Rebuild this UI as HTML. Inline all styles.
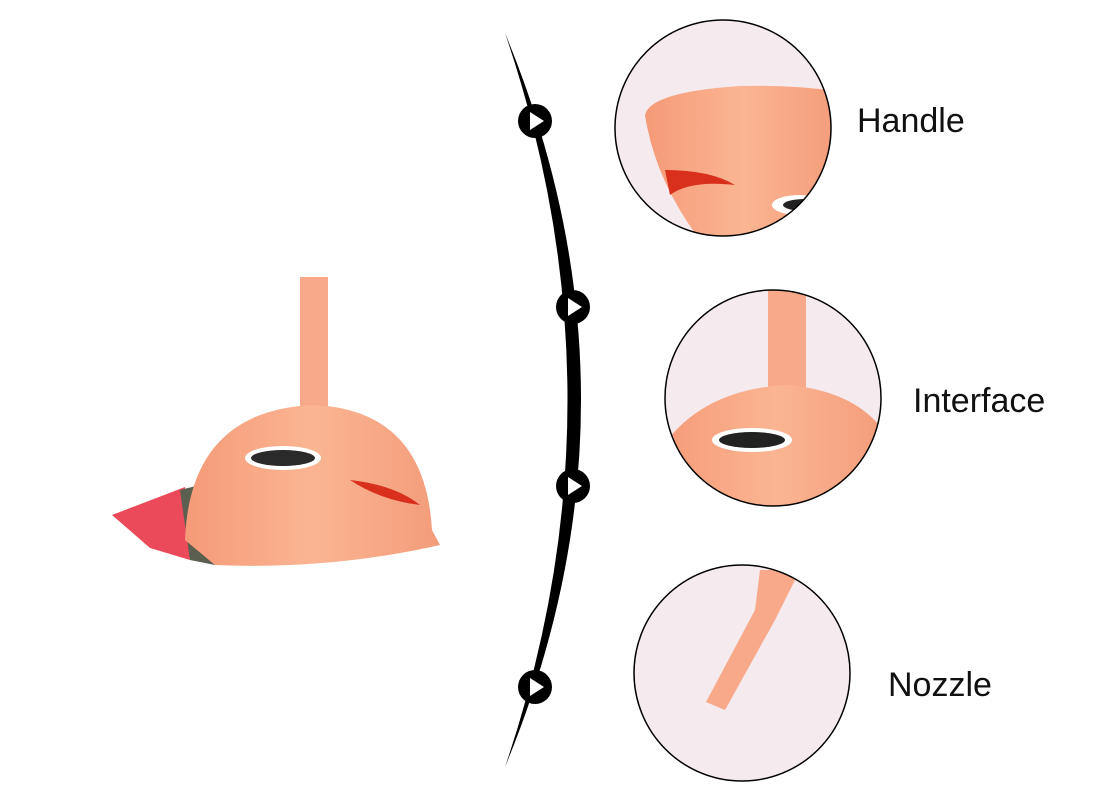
<!DOCTYPE html>
<html><head><meta charset="utf-8"><style>
html,body{margin:0;padding:0;background:#fff;width:1100px;height:800px;overflow:hidden}
svg{display:block}
text{font-family:"Liberation Sans",sans-serif;font-size:34px;fill:#111}
</style></head><body>
<svg width="1100" height="800" viewBox="0 0 1100 800">
<defs>
<clipPath id="c1"><circle cx="723" cy="128" r="108"/></clipPath>
<clipPath id="c2"><circle cx="773" cy="398" r="108"/></clipPath>
<clipPath id="c3"><circle cx="742" cy="673" r="108"/></clipPath>
<linearGradient id="peach" x1="0" y1="0" x2="1" y2="0"><stop offset="0" stop-color="#f59a78"/><stop offset="0.5" stop-color="#fbb592"/><stop offset="1" stop-color="#f39c7a"/></linearGradient>
</defs>
<path d="M112 515 L185 487 L190 560 L150 548 Z" fill="#ea4a5a"/>
<path d="M180 490 L200 485 L215 565 L190 560 Z" fill="#5a5f50"/>
<rect x="300" y="277" width="28" height="160" fill="#f8a98a"/>
<path d="M185 540 Q190 410 314 405 Q425 410 432 530 L440 545 Q330 570 215 565 Z" fill="url(#peach)"/>
<ellipse cx="283" cy="458" rx="38" ry="12" fill="#fff"/>
<ellipse cx="283" cy="458" rx="32" ry="8" fill="#2a2a2a"/>
<path d="M350 480 Q395 485 420 505 Q380 500 350 480Z" fill="#d8301c"/>
<path d="M505 33 Q657 400 505 767 Q630 400 505 33Z" fill="#000"/>
<g>
<circle cx="535" cy="121" r="17" fill="#000"/><polygon points="530,112 530,130 544,121" fill="#fff"/>
<circle cx="573" cy="307" r="17" fill="#000"/><polygon points="568,298 568,316 582,307" fill="#fff"/>
<circle cx="573" cy="486" r="17" fill="#000"/><polygon points="568,477 568,495 582,486" fill="#fff"/>
<circle cx="535" cy="687" r="17" fill="#000"/><polygon points="530,678 530,696 544,687" fill="#fff"/>
</g>
<circle cx="723" cy="128" r="108" fill="#f5eaee"/>
<g clip-path="url(#c1)">
<path d="M645 115 Q650 92 740 86 Q800 85 840 92 L840 240 L700 240 Q655 180 645 115Z" fill="url(#peach)"/>
<path d="M665 170 Q710 170 735 185 Q690 180 670 195Z" fill="#d8301c"/>
<ellipse cx="800" cy="205" rx="28" ry="10" fill="#fff"/><ellipse cx="805" cy="205" rx="22" ry="6" fill="#222"/>
</g>
<circle cx="723" cy="128" r="108" fill="none" stroke="#000" stroke-width="1.5"/>
<circle cx="773" cy="398" r="108" fill="#f5eaee"/>
<g clip-path="url(#c2)">
<rect x="768" y="285" width="38" height="110" fill="#f8a98a"/>
<path d="M660 450 Q700 390 785 385 Q860 390 890 440 L890 520 L660 520Z" fill="url(#peach)"/>
<ellipse cx="752" cy="440" rx="40" ry="12" fill="#fff"/><ellipse cx="752" cy="440" rx="33" ry="8" fill="#222"/>
</g>
<circle cx="773" cy="398" r="108" fill="none" stroke="#000" stroke-width="1.5"/>
<circle cx="742" cy="673" r="108" fill="#f5eaee"/>
<g clip-path="url(#c3)">
<path d="M760 570 L800 570 L775 620 L725 710 L706 702 L755 610Z" fill="#f8a98a"/>
</g>
<circle cx="742" cy="673" r="108" fill="none" stroke="#000" stroke-width="1.5"/>
<text x="857" y="132">Handle</text>
<text x="913" y="412">Interface</text>
<text x="888" y="696">Nozzle</text>
</svg>
</body></html>
